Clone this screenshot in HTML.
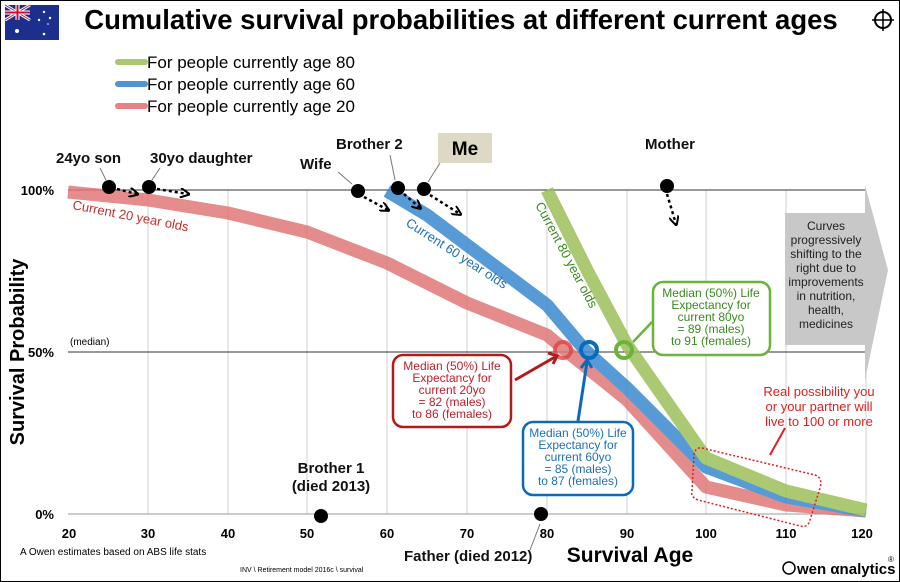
<!DOCTYPE html>
<html><head><meta charset="utf-8"><style>
body{margin:0;background:#fff}
svg{display:block;font-family:"Liberation Sans",sans-serif}
</style></head><body>
<svg width="900" height="582" viewBox="0 0 900 582" xmlns="http://www.w3.org/2000/svg">
<defs><marker id="ah" markerWidth="6" markerHeight="6" refX="4" refY="3" orient="auto" markerUnits="userSpaceOnUse"><path d="M0 0 L6 3 L0 6" fill="none" stroke="#000" stroke-width="1.8"/></marker>
<marker id="ah2" viewBox="0 0 10 10" markerWidth="10" markerHeight="10" refX="8" refY="5" orient="auto" markerUnits="userSpaceOnUse"><path d="M0 0 L10 5 L0 10" fill="none" stroke="#000" stroke-width="2"/></marker></defs>
<rect x="0.5" y="0.5" width="899" height="581" fill="#fff" stroke="#000"/>
<!-- flag -->
<rect x="5" y="5" width="54" height="35" fill="#1c2f8f"/>
<path d="M5 5 L30 20 M30 5 L5 20" stroke="#fff" stroke-width="3"/>
<path d="M5 5 L30 20 M30 5 L5 20" stroke="#c8102e" stroke-width="1"/>
<path d="M17.5 5 V20 M5 12.5 H30" stroke="#fff" stroke-width="4"/>
<path d="M17.5 5 V20 M5 12.5 H30" stroke="#c8102e" stroke-width="2"/>
<g fill="#fff"><circle cx="17" cy="31" r="2"/><circle cx="44" cy="12" r="1.2"/><circle cx="50" cy="18" r="1.2"/><circle cx="39" cy="20" r="1.2"/><circle cx="44" cy="34" r="1.3"/><circle cx="48" cy="24" r="0.8"/></g>
<text x="461" y="29" text-anchor="middle" font-size="27.5" font-weight="bold">Cumulative survival probabilities at different current ages</text>
<!-- crosshair -->
<circle cx="883" cy="20" r="8" fill="none" stroke="#000" stroke-width="2"/><path d="M872 20H894M883 9V31" stroke="#000" stroke-width="1.5"/>
<!-- legend -->
<g stroke-width="6" stroke-linecap="round">
<line x1="118" y1="62" x2="145" y2="62" stroke="#a9c870"/>
<line x1="118" y1="84" x2="145" y2="84" stroke="#4e96d2"/>
<line x1="118" y1="106" x2="145" y2="106" stroke="#e38383"/>
</g>
<g font-size="17"><text x="147" y="68">For people  currently age 80</text><text x="147" y="90">For people  currently age 60</text><text x="147" y="112">For people  currently age 20</text></g>
<!-- grid -->
<g stroke="#d0d0d0" stroke-width="1">
<line x1="148" y1="190" x2="148" y2="514"/><line x1="228" y1="190" x2="228" y2="514"/><line x1="307" y1="190" x2="307" y2="514"/><line x1="387" y1="190" x2="387" y2="514"/><line x1="467" y1="190" x2="467" y2="514"/><line x1="547" y1="190" x2="547" y2="514"/><line x1="627" y1="190" x2="627" y2="514"/><line x1="706" y1="190" x2="706" y2="514"/><line x1="786" y1="190" x2="786" y2="514"/><line x1="866" y1="190" x2="866" y2="514"/>
</g>
<line x1="68" y1="190" x2="866" y2="190" stroke="#333"/>
<line x1="68" y1="352" x2="866" y2="352" stroke="#333"/>
<line x1="68" y1="514" x2="866" y2="514" stroke="#999"/>
<!-- grey arrow -->
<path d="M785 213 H865 V185 L888 270 L865 380 V345 H785 Z" fill="#c8c8c8"/>
<text text-anchor="middle" font-size="12" fill="#222"><tspan x="826" y="230">Curves</tspan><tspan x="826" y="244">progressively</tspan><tspan x="826" y="258">shifting to the</tspan><tspan x="826" y="272">right due to</tspan><tspan x="826" y="286">improvements</tspan><tspan x="826" y="300">in nutrition,</tspan><tspan x="826" y="314">health,</tspan><tspan x="826" y="328">medicines</tspan></text>
<!-- curves -->
<g fill="none" stroke-width="13" stroke-linejoin="round" opacity="0.85">
<polyline stroke="#e07878" points="68,192 148,200 228,213 307,232 387,263 467,303 547,335 565,350 627,400 706,487 786,505 866,511"/>
<polyline stroke="#3a8ad0" points="387,191 427,215 467,245 547,305 585,350 627,388 706,467 786,497 866,511"/>
<polyline stroke="#9dc05a" points="547,190 587,270 627,345 706,458 786,491 866,510"/>
</g>
<!-- curve labels -->
<text transform="translate(72,209) rotate(11)" font-size="13" fill="#c0302f">Current 20 year olds</text>
<text transform="translate(405,225) rotate(33)" font-size="13" fill="#1f6fb5">Current 60 year olds</text>
<text transform="translate(535,205) rotate(62)" font-size="13" fill="#3a8a20">Current 80 year olds</text>
<!-- median circles -->
<circle cx="563" cy="350" r="8" fill="none" stroke="#d44" stroke-width="4" opacity="0.8"/>
<circle cx="589" cy="350" r="8" fill="none" stroke="#0a6bbd" stroke-width="4"/>
<circle cx="624" cy="350" r="8" fill="none" stroke="#6ab43c" stroke-width="4"/>
<!-- callouts -->
<rect x="393" y="355" width="118" height="72" rx="10" fill="#fff" stroke="#b01c1c" stroke-width="2.5"/>
<text text-anchor="middle" font-size="12" fill="#c0202a"><tspan x="452" y="370">Median (50%) Life</tspan><tspan x="452" y="382">Expectancy for</tspan><tspan x="452" y="394">current 20yo</tspan><tspan x="452" y="406">= 82 (males)</tspan><tspan x="452" y="418">to 86 (females)</tspan></text>
<path d="M515 380 L555 357" stroke="#b01c1c" stroke-width="3"/><path d="M548 353 L557 356 L553 364" stroke="#b01c1c" stroke-width="3" fill="none"/>
<rect x="523" y="422" width="110" height="73" rx="10" fill="#fff" stroke="#0a6bbd" stroke-width="2.5"/>
<text text-anchor="middle" font-size="12" fill="#1f6fb5"><tspan x="578" y="437">Median (50%) Life</tspan><tspan x="578" y="449">Expectancy for</tspan><tspan x="578" y="461">current 60yo</tspan><tspan x="578" y="473">= 85 (males)</tspan><tspan x="578" y="485">to 87 (females)</tspan></text>
<path d="M578 421 L587 362" stroke="#0a6bbd" stroke-width="3"/><path d="M581 368 L587 360 L592 368" stroke="#0a6bbd" stroke-width="3" fill="none"/>
<rect x="653" y="282" width="117" height="73" rx="10" fill="#fff" stroke="#6ab43c" stroke-width="2.5"/>
<text text-anchor="middle" font-size="12" fill="#3a8a20"><tspan x="711" y="297">Median (50%) Life</tspan><tspan x="711" y="309">Expectancy for</tspan><tspan x="711" y="321">current 80yo</tspan><tspan x="711" y="333">= 89 (males)</tspan><tspan x="711" y="345">to 91 (females)</tspan></text>
<path d="M652 322 L633 342" stroke="#6ab43c" stroke-width="2.5"/>
<text text-anchor="middle" font-size="13" fill="#e02020"><tspan x="819" y="396">Real possibility you</tspan><tspan x="819" y="411">or your partner will</tspan><tspan x="819" y="426">live to 100 or more</tspan></text>
<path d="M785 428 L770 455" stroke="#e02020" stroke-width="2"/>
<path d="M702 448 L815 475 Q823 478 820 488 L810 520 Q808 528 800 526 L698 500 Q690 497 692 490 L694 455 Q695 447 702 448Z" fill="none" stroke="#e02020" stroke-width="1.5" stroke-dasharray="2,2"/>
<!-- axes labels -->
<g font-size="13" font-weight="bold" text-anchor="end"><text x="54" y="195">100%</text><text x="54" y="357">50%</text><text x="54" y="519">0%</text></g>
<text x="70" y="345" font-size="10">(median)</text>
<g font-size="13" font-weight="bold" text-anchor="middle"><text x="69" y="538">20</text><text x="148" y="538">30</text><text x="228" y="538">40</text><text x="307" y="538">50</text><text x="387" y="538">60</text><text x="467" y="538">70</text><text x="547" y="538">80</text><text x="627" y="538">90</text><text x="706" y="538">100</text><text x="786" y="538">110</text><text x="862" y="538">120</text></g>
<text transform="translate(24,352) rotate(-90)" text-anchor="middle" font-size="20" font-weight="bold">Survival Probability</text>
<text x="630" y="562" text-anchor="middle" font-size="21" font-weight="bold">Survival Age</text>
<text x="20" y="555" font-size="10">A Owen estimates based on ABS life stats</text>
<text x="240" y="572" font-size="7">INV \ Retirement model 2016c \ survival</text>
<text x="797" y="574" font-size="15" font-weight="bold">wen αnalytics</text><text x="888" y="562" font-size="8">®</text>
<circle cx="789" cy="568" r="6" fill="none" stroke="#000" stroke-width="1.5"/>
<!-- people -->
<g fill="#000">
<circle cx="109" cy="187" r="7"/><circle cx="149" cy="187" r="7"/><circle cx="358" cy="191" r="7"/><circle cx="398" cy="188" r="7"/><circle cx="424" cy="189" r="7"/><circle cx="667" cy="186" r="7"/><circle cx="321" cy="516" r="7"/><circle cx="541" cy="514" r="7"/>
</g>
<g stroke="#000" stroke-width="2.5" stroke-dasharray="3,3" fill="none">
<path d="M117 189 L137 194" marker-end="url(#ah2)"/><path d="M157 189 L188 194" marker-end="url(#ah2)"/><path d="M364 197 L388 210" marker-end="url(#ah2)"/><path d="M404 194 L420 208" marker-end="url(#ah2)"/><path d="M430 195 L460 214" marker-end="url(#ah2)"/><path d="M667 194 L676 224" marker-end="url(#ah2)"/>
</g>
<g font-size="15" font-weight="bold" fill="#111">
<text x="56" y="163">24yo son</text><text x="150" y="163">30yo daughter</text><text x="300" y="169">Wife</text><text x="336" y="149">Brother 2</text><text x="645" y="149">Mother</text>
<text x="331" y="473" text-anchor="middle">Brother 1</text><text x="331" y="491" text-anchor="middle">(died 2013)</text>
<text x="404" y="561">Father (died 2012)</text>
</g>
<rect x="438" y="133" width="54" height="30" fill="#ddd9c4"/>
<text x="465" y="155" text-anchor="middle" font-size="19" font-weight="bold">Me</text>
<g stroke="#777" stroke-width="1" fill="none"><path d="M100 168 L106 180"/><path d="M160 168 L152 180"/><path d="M338 172 L352 184"/><path d="M390 155 L395 180"/><path d="M440 163 L428 182"/><path d="M530 550 L540 524"/></g>
</svg>
</body></html>
